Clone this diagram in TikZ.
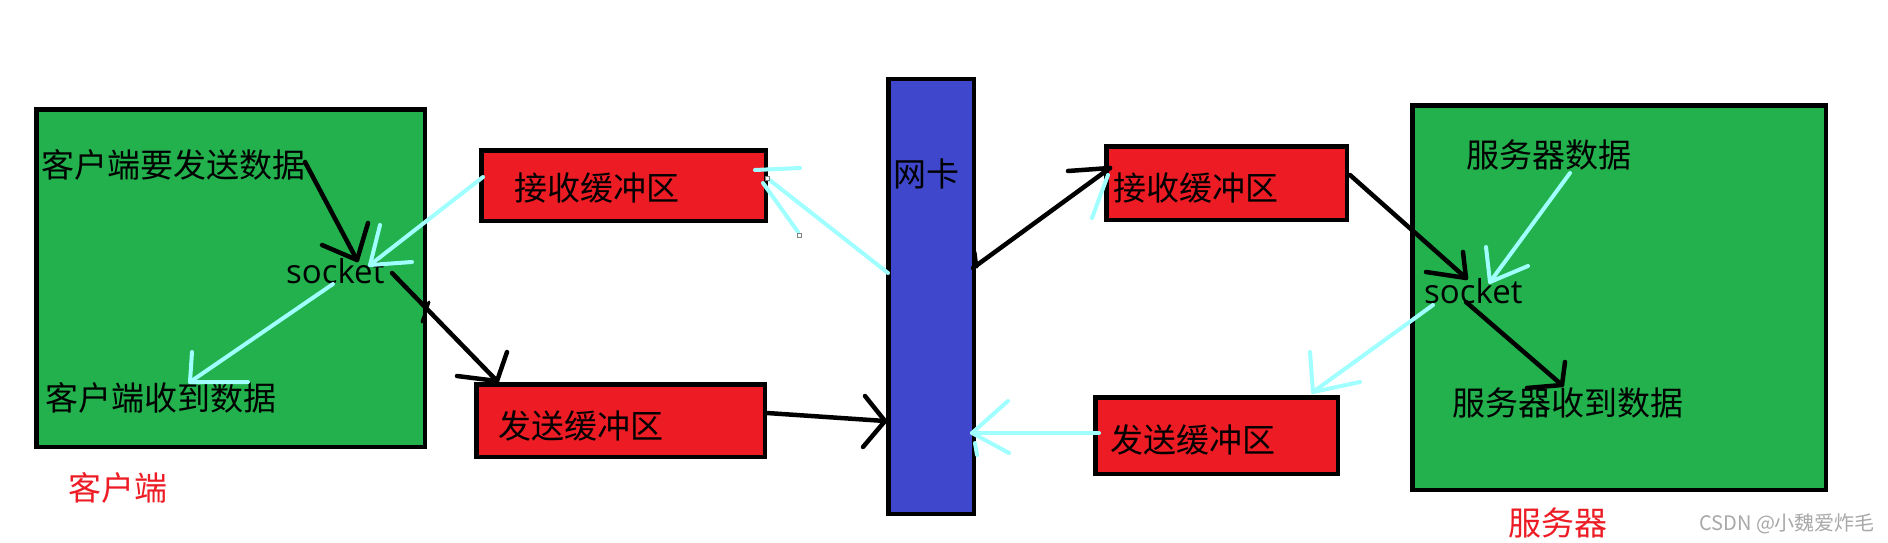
\documentclass[tikz,border=0pt]{standalone}
\usepackage{fontspec}
\newfontfamily\cjk{Noto Sans CJK SC}
\newfontfamily\latin{Open Sans}
\definecolor{hostgreen}{HTML}{22B14C}
\definecolor{bufred}{HTML}{ED1C24}
\definecolor{nicblue}{HTML}{3F48CC}
\definecolor{flowcyan}{HTML}{A0FFFF}
\definecolor{markgray}{HTML}{A8A8A8}

\begin{document}
\begin{tikzpicture}[x=1pt,y=-1pt,
  hostbox/.style={draw=black,line width=4.5pt,fill=hostgreen,inner sep=0pt},
  bufbox/.style={draw=black,line width=4.5pt,fill=bufred,inner sep=0pt},
  nicbox/.style={draw=black,line width=4.5pt,fill=nicblue,inner sep=0pt},
  lbl/.style={anchor=base west,inner sep=0pt,font=\cjk\fontsize{33}{40}\selectfont},
  sock/.style={anchor=base west,inner sep=0pt,font=\latin\fontsize{33}{40}\selectfont},
  redlbl/.style={lbl,text=bufred},
  blk/.style={draw=black,line width=4.5pt,line cap=round,line join=round},
  cyn/.style={draw=flowcyan,line width=4pt,line cap=round,line join=round},
  handle/.style={draw=gray,fill=white,line width=0.8pt}
]
\useasboundingbox (0,0) rectangle (1888,543);
\fill[white] (0,0) rectangle (1888,543);

% hosts, buffers and the network card
\node[hostbox,minimum width=388.5pt,minimum height=337.5pt] (client) at (230.5,278) {};
\node[hostbox,minimum width=413.5pt,minimum height=384.5pt] (server) at (1619,297.5) {};
\node[nicbox,minimum width=85.5pt,minimum height=434.5pt] (nic) at (931,296.5) {};
\node[bufbox,minimum width=284.5pt,minimum height=70.5pt] (crecv) at (623.5,185.5) {};
\node[bufbox,minimum width=288.5pt,minimum height=72.5pt] (csend) at (620.5,420.5) {};
\node[bufbox,minimum width=240.5pt,minimum height=73.5pt] (srecv) at (1226.5,183) {};
\node[bufbox,minimum width=242.5pt,minimum height=76.5pt] (ssend) at (1216.5,435.5) {};

% labels
\node[lbl] (cdata) at (41,177) {客户端要发送数据};
\node[sock] (csock) at (286,283) {socket};
\node[lbl] (cgot) at (45,410) {客户端收到数据};
\node[redlbl] (clabel) at (68,500) {客户端};
\node[lbl] (crecvt) at (514,200) {接收缓冲区};
\node[lbl] (csendt) at (498,438) {发送缓冲区};
\node[lbl] (nict) at (893,186) {网卡};
\node[lbl] (srecvt) at (1113,200) {接收缓冲区};
\node[lbl] (ssendt) at (1110,452) {发送缓冲区};
\node[lbl] (sdata) at (1466,167) {服务器数据};
\node[sock] (ssock) at (1424,303) {socket};
\node[lbl] (sgot) at (1452,415) {服务器收到数据};
\node[redlbl] (slabel) at (1508,535) {服务器};
\node[anchor=base west,inner sep=0pt,text=markgray,font=\cjk\fontsize{20}{24}\selectfont] (mark) at (1699,530) {CSDN @小魏爱炸毛};

% connector end points
\coordinate (a1s) at (305,162);  \coordinate (a1t) at (357,260);
\coordinate (a2s) at (392,273);  \coordinate (a2t) at (497,381);
\coordinate (a3s) at (767,413);  \coordinate (a3t) at (885,421);
\coordinate (a4s) at (973,268);  \coordinate (a4t) at (1110,168);
\coordinate (a5s) at (1350,175); \coordinate (a5t) at (1466,278);
\coordinate (a6s) at (1466,302); \coordinate (a6t) at (1562,385);
\coordinate (c1s) at (483,177);  \coordinate (c1t) at (370,265);
\coordinate (c2s) at (333,284);  \coordinate (c2t) at (190,382);
\coordinate (c3s) at (888,273);  \coordinate (c3t) at (767,178);
\coordinate (c4s) at (1099,433); \coordinate (c4t) at (972,433);
\coordinate (c5s) at (1433,305); \coordinate (c5t) at (1313,392);
\coordinate (c6s) at (1570,173); \coordinate (c6t) at (1490,282);

% sending path (black)
\draw[blk] (a1s) -- (a1t);  \draw[blk] (368,223) -- (a1t) -- (322,245);
\draw[blk] (a2s) -- (a2t);  \draw[blk] (507,352) -- (a2t) -- (457,376);
\draw[blk] (a3s) -- (a3t);  \draw[blk] (865,396) -- (a3t) -- (863,447);
\draw[blk] (a4s) -- (a4t);  \draw[blk] (1068,171) -- (a4t);
\draw[blk] (a5s) -- (a5t);  \draw[blk] (1463,252) -- (a5t) -- (1426,272);
\draw[blk] (a6s) -- (a6t);  \draw[blk] (1565,362) -- (a6t) -- (1527,388);
\draw[blk,line width=3pt] (429,302) -- (422,322);
\draw[blk,line width=3pt] (975,252) -- (977,267);

% receiving path (cyan)
\draw[cyn] (c1s) -- (c1t);  \draw[cyn] (380,225) -- (c1t) -- (412,262);
\draw[cyn] (c2s) -- (c2t);  \draw[cyn] (192,352) -- (c2t) -- (248,382);
\draw[cyn] (c3s) -- (c3t);  \draw[cyn] (755,170) -- (800,168);
\draw[cyn] (763,183) -- (798,232);
\draw[cyn] (c4s) -- (c4t);  \draw[cyn] (1008,401) -- (c4t) -- (1009,453);
\draw[cyn] (975,443) -- (977,455);
\draw[cyn] (c5s) -- (c5t);  \draw[cyn] (1310,352) -- (c5t) -- (1360,382);
\draw[cyn] (c6s) -- (c6t);  \draw[cyn] (1486,247) -- (c6t) -- (1528,266);
\draw[cyn] (1092,218) -- (1108,175);

% small selection handles
\draw[handle] (765,176) rectangle (769,180);
\draw[handle] (797,233) rectangle (801,237);
\end{tikzpicture}
\end{document}
